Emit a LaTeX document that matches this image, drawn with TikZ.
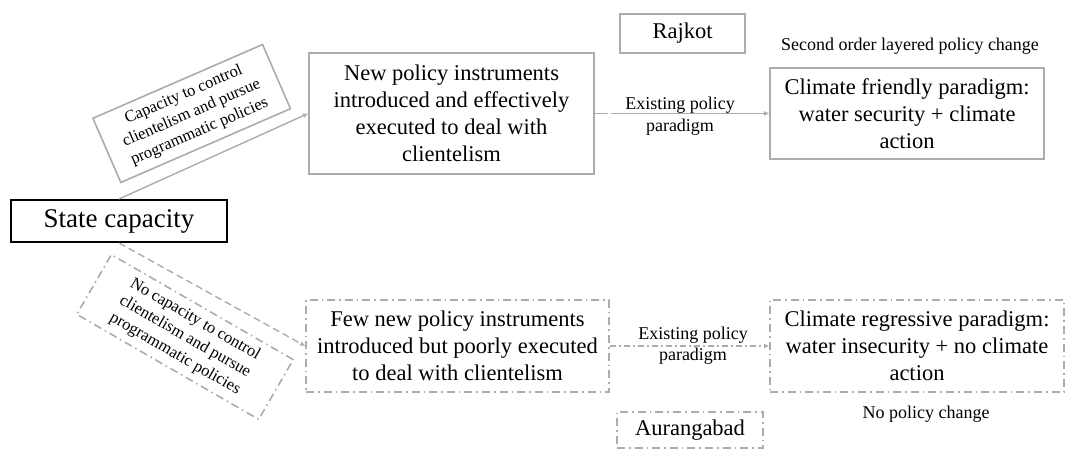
\documentclass[tikz,border=0pt]{standalone}
\usepackage{fontspec}
\IfFontExistsTF{LiberationSerif-Regular.ttf}
  {\setmainfont{LiberationSerif}[Extension=.ttf, UprightFont=*-Regular, BoldFont=*-Bold, ItalicFont=*-Italic]}
  {\setmainfont{Liberation Serif}}
\usetikzlibrary{arrows.meta}
\definecolor{edgegray}{RGB}{172,172,172}
\tikzset{
  bigtext/.style={font=\fontsize{22.5}{27}\selectfont},
  smalltext/.style={font=\fontsize{18}{21.5}\selectfont},
  tilttext/.style={font=\fontsize{16.5}{20}\selectfont},
  graybox/.style={draw=edgegray, line width=1.6pt, inner sep=0pt, align=center, bigtext},
  dashdot/.style={dash pattern=on 8pt off 4pt on 1.6pt off 4pt},
  dashbox/.style={graybox, dashdot},
  link/.style={draw=edgegray, line width=1.4pt, -{Latex[length=5pt,width=5pt]}},
}
\begin{document}
\begin{tikzpicture}[x=1pt,y=-1pt]
  \useasboundingbox (0,0) rectangle (1072,450);

  % root
  \node[draw=black, line width=2pt, inner sep=0pt, minimum width=216pt, minimum height=42pt,
        font=\fontsize{27}{32}\selectfont] (sc) at (119,221) {State capacity};

  % upper branch
  \node[graybox, minimum width=285pt, minimum height=121pt] (np) at (451.5,113.5)
    {New policy instruments\\introduced and effectively\\executed to deal with\\clientelism};
  \node[graybox, minimum width=274pt, minimum height=91pt] (cf) at (907,113.5)
    {Climate friendly paradigm:\\water security + climate\\action};
  \node[graybox, minimum width=125pt, minimum height=39pt] (rj) at (682.5,33.5) {Rajkot};
  \node[smalltext] (so) at (910,46) {Second order layered policy change};

  \draw[link] (sc.north) -- (np.west);
  \node[graybox, fill=white, tilttext, minimum width=185pt, minimum height=70pt, rotate=23.5]
    (lu) at (191.7,113.5) {Capacity to control\\clientelism and pursue\\programmatic policies};

  \draw[link, dash pattern=on 13pt off 3pt on 300pt] (np.east) -- (cf.west);
  \node[smalltext, align=center] (eu) at (680,116) {Existing policy\\paradigm};

  % lower branch
  \node[dashbox, minimum width=303pt, minimum height=92pt] (fp) at (457.5,346)
    {Few new policy instruments\\introduced but poorly executed\\to deal with clientelism};
  \node[dashbox, minimum width=294pt, minimum height=92pt] (cr) at (917,346)
    {Climate regressive paradigm:\\water insecurity + no climate\\action};
  \node[dashbox, minimum width=146pt, minimum height=36pt] (au) at (690,430) {Aurangabad};
  \node[smalltext] (np2) at (926,414) {No policy change};

  \node[dashbox, tilttext, minimum width=210pt, minimum height=69pt, rotate=-30]
    (ll) at (185,337) {No capacity to control\\clientelism and pursue\\programmatic policies};
  \draw[link, dash pattern=on 7pt off 4pt] (sc.south) -- (fp.west);

  \draw[link, dash pattern=on 6pt off 3pt on 2pt off 3pt] (fp.east) -- (cr.west);
  \node[smalltext, align=center] (el) at (693,345.5) {Existing policy\\paradigm};
\end{tikzpicture}
\end{document}
